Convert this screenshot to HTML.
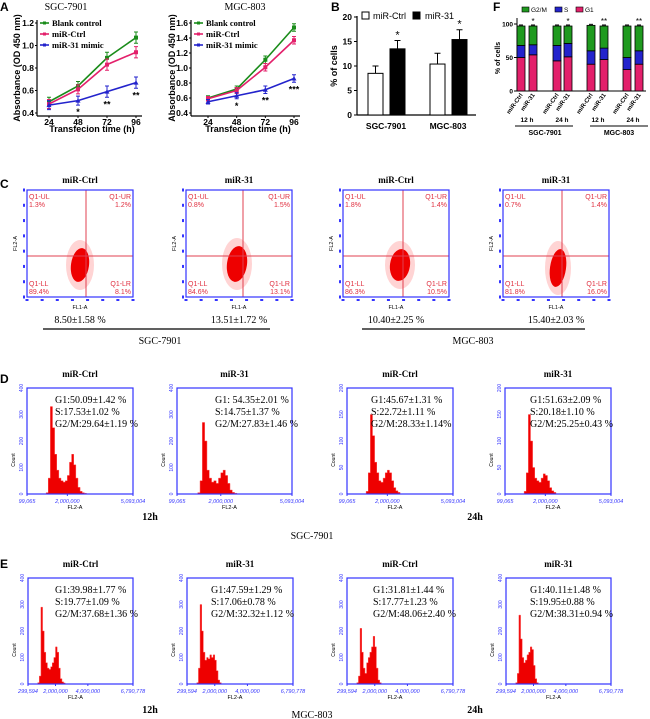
<!DOCTYPE html>
<html><head><meta charset="utf-8">
<style>
html,body{margin:0;padding:0;background:#fff;}
svg{display:block;}
.ser{font-family:"Liberation Serif",serif;}
.sans{font-family:"Liberation Sans",sans-serif;}
</style></head>
<body>
<svg id="fig" width="650" height="719" viewBox="0 0 650 719" xmlns="http://www.w3.org/2000/svg">
<rect width="650" height="719" fill="#fff"/>
<g class="sans" font-weight="bold" font-size="12" fill="#000">
<text x="0" y="11">A</text>
<text x="331" y="11">B</text>
<text x="493" y="11">F</text>
<text x="0" y="188">C</text>
<text x="0" y="383">D</text>
<text x="0" y="568">E</text>
</g>
<g class="ser" font-size="10" text-anchor="middle" fill="#000">
<text x="66" y="10">SGC-7901</text>
<text x="245" y="10">MGC-803</text>
</g>
<g class="sans" font-weight="bold" font-size="9" fill="#000" text-anchor="middle">
<text x="92" y="132">Transfecion time (h)</text>
<text x="248" y="132">Transfecion time (h)</text>
<text transform="translate(20,68) rotate(-90)">Absorbance (OD 450 nm)</text>
<text transform="translate(175,68) rotate(-90)">Absorbance (OD 450 nm)</text>
<text transform="translate(337,66) rotate(-90)">% of cells</text>
<text transform="translate(500,58) rotate(-90)" font-size="7">% of cells</text>
</g>
</svg>
<script>
// ---------- DATA ----------
const aTimes=[24,48,72,96];
const sgcBlank=[0.50,0.64,0.89,1.07];
const sgcCtrl=[0.48,0.61,0.83,0.94];
const sgcMimic=[0.47,0.51,0.59,0.67];
const sgcErr=[0.04,0.04,0.05,0.05];
const sgcStars=["","*","**","**"];
const mgcBlank=[0.60,0.72,1.11,1.54];
const mgcCtrl=[0.59,0.70,1.01,1.37];
const mgcMimic=[0.55,0.63,0.71,0.86];
const mgcErr=[0.03,0.04,0.05,0.05];
const mgcStars=["","*","**","***"];
const bGroups=["SGC-7901","MGC-803"];
const bCtrl=[8.5,10.4];
const bCtrlErr=[1.5,2.2];
const bMir=[13.5,15.4];
const bMirErr=[1.7,2.0];
const bTicks=[0,5,10,15,20];
const fLabels=["miR-Ctrl","miR-31","miR-Ctrl","miR-31","miR-Ctrl","miR-31","miR-Ctrl","miR-31"];
const fG1=[50,54,45,51,40,47,32,40];
const fS=[18,15,23,20,20,17,18,20];
const fG2M=[29,28,29,26,38,33,47,37];
const fStars=["","*","","*","","**","","**"];
const fTicks=[0,50,100];
const cTitles=["miR-Ctrl","miR-31","miR-Ctrl","miR-31"];
const cUL=["1.3%","0.8%","1.8%","0.7%"];
const cUR=["1.2%","1.5%","1.4%","1.4%"];
const cLL=["89.4%","84.6%","86.3%","81.8%"];
const cLR=["8.1%","13.1%","10.5%","16.0%"];
const cApop=["8.50±1.58 %","13.51±1.72 %","10.40±2.25 %","15.40±2.03 %"];
const dText=[["G1:50.09±1.42 %","S:17.53±1.02 %","G2/M:29.64±1.19 %"],["G1: 54.35±2.01 %","S:14.75±1.37 %","G2/M:27.83±1.46 %"],["G1:45.67±1.31 %","S:22.72±1.11 %","G2/M:28.33±1.14%"],["G1:51.63±2.09 %","S:20.18±1.10 %","G2/M:25.25±0.43 %"]];
const eText=[["G1:39.98±1.77 %","S:19.77±1.09 %","G2/M:37.68±1.36 %"],["G1:47.59±1.29 %","S:17.06±0.78 %","G2/M:32.32±1.12 %"],["G1:31.81±1.44 %","S:17.77±1.23 %","G2/M:48.06±2.40 %"],["G1:40.11±1.48 %","S:19.95±0.88 %","G2/M:38.31±0.94 %"]];
const dCounts1=[5,60,330,250,150,90,60,50,45,50,70,120,150,110,60,25,10,5,3];
const dCounts2=[5,50,270,200,90,60,45,50,40,60,80,90,70,40,15,6,3];
const dCounts3=[5,40,150,110,60,40,25,22,30,40,45,40,25,12,6,3];
const dCounts4=[5,40,150,100,50,30,25,22,30,38,35,25,12,6,3];
const eCounts1=[5,30,290,200,120,80,60,55,65,80,100,140,120,60,20,8,4];
const eCounts2=[5,60,300,200,120,90,100,95,110,100,110,90,50,15,5];
const eCounts3=[5,30,210,120,60,40,80,100,120,140,180,140,60,15,5];
const eCounts4=[5,40,260,170,100,80,90,110,120,140,130,70,20,5];

// ---------- HELPERS ----------
const NS="http://www.w3.org/2000/svg";
const svg=document.getElementById('fig');
function el(tag,attrs,txt){const e=document.createElementNS(NS,tag);for(const k in attrs)e.setAttribute(k,attrs[k]);if(txt!==undefined)e.textContent=txt;svg.appendChild(e);return e;}
const SANS='"Liberation Sans",sans-serif', SERIF='"Liberation Serif",serif';
const GREEN='#1a8c1a', PINK='#e3206b', BLUE='#2323cc';

// ---------- PANEL A ----------
function lineChart(p){
  const ys=v=>p.y0-(v-p.vmin)/(p.vmax-p.vmin)*(p.y0-p.y1);
  const xs=t=>p.x0+(t-24)/72*(p.x1-p.x0);
  let e=el('line',{x1:p.ax,y1:p.y1-3,x2:p.ax,y2:p.y0+3,stroke:'#000','stroke-width':1.2});
  
  
  e=el('line',{x1:p.ax,y1:p.y0+3,x2:p.x1+6,y2:p.y0+3,stroke:'#000','stroke-width':1.2});
  
  
  for(let v=p.vmin;v<=p.vmax+1e-6;v+=0.2){
    e=el('text',{x:p.ax-3,y:ys(v)+3,'text-anchor':'end','font-family':SANS,'font-weight':'bold','font-size':8.5},v.toFixed(1));
    
    
    el('line',{x1:p.ax-2,y1:ys(v),x2:p.ax,y2:ys(v),stroke:'#000'});
  }
  aTimes.forEach(t=>{
    e=el('text',{x:xs(t),y:p.y0+12,'text-anchor':'middle','font-family':SANS,'font-weight':'bold','font-size':8.5},t);
    
    
    el('line',{x1:xs(t),y1:p.y0+3,x2:xs(t),y2:p.y0+5,stroke:'#000'});
  });
  const series=[[p.blank,GREEN,'blank-control'],[p.ctrl,PINK,'mir-ctrl'],[p.mimic,BLUE,'mir-31-mimic']];
  series.forEach(([d,c,n],si)=>{
    const pts=d.map((v,i)=>xs(aTimes[i])+','+ys(v)).join(' ');
    e=el('polyline',{points:pts,fill:'none',stroke:c,'stroke-width':1.6});
    
    
    d.forEach((v,i)=>{
      const x=xs(aTimes[i]),y=ys(v),er=(p.y0-p.y1)*p.err[i]/(p.vmax-p.vmin);
      el('path',{d:`M${x},${y-er}V${y+er}M${x-2},${y-er}h4M${x-2},${y+er}h4`,stroke:c,'stroke-width':1});
      e=si==2?el('path',{d:`M${x},${y-2.5}l2.5,4.5h-5z`,fill:c}):el('rect',{x:x-2,y:y-2,width:4,height:4,fill:c});
      
      
    });
    el('line',{x1:p.ax+3,y1:p.y1+ si*11,x2:p.ax+12,y2:p.y1+si*11,stroke:c,'stroke-width':1.6});
    el('rect',{x:p.ax+6,y:p.y1+si*11-1.5,width:3,height:3,fill:c});
    e=el('text',{x:p.ax+15,y:p.y1+si*11+3,'font-family':SERIF,'font-weight':'bold','font-size':8.5},['Blank control','miR-Ctrl','miR-31 mimic'][si]);
    
    
  });
  p.stars.forEach((s,i)=>{
    if(!s)return;
    const er=(p.y0-p.y1)*p.err[i]/(p.vmax-p.vmin);
    e=el('text',{x:xs(aTimes[i]),y:ys(p.mimic[i])+er+10,'text-anchor':'middle','font-family':SANS,'font-weight':'bold','font-size':9},s);
    
    
  });
}
lineChart({ax:37,x0:49,x1:136,y0:113,y1:23,vmin:0.4,vmax:1.2,blank:sgcBlank,ctrl:sgcCtrl,mimic:sgcMimic,err:sgcErr,stars:sgcStars});
lineChart({ax:191,x0:208,x1:294,y0:113,y1:23,vmin:0.4,vmax:1.6,blank:mgcBlank,ctrl:mgcCtrl,mimic:mgcMimic,err:mgcErr,stars:mgcStars});

// ---------- PANEL B ----------
(function(){
  const y=v=>115-v/20*98;
  let e=el('line',{x1:357,y1:16,x2:357,y2:115,stroke:'#000','stroke-width':1.2});
  
  
  e=el('line',{x1:357,y1:115,x2:476,y2:115,stroke:'#000','stroke-width':1.2});
  
  
  bTicks.forEach(t=>{
    el('line',{x1:354,y1:y(t),x2:357,y2:y(t),stroke:'#000'});
    e=el('text',{x:352,y:y(t)+3,'text-anchor':'end','font-family':SANS,'font-weight':'bold','font-size':8.5},t);
    
    
  });
  const gx=[368,430];
  bGroups.forEach((g,i)=>{
    [[bCtrl,bCtrlErr,'#fff',0],[bMir,bMirErr,'#000',22]].forEach(([d,er,f,off])=>{
      const x=gx[i]+off, w=15;
      el('path',{d:`M${x+w/2},${y(d[i])}V${y(d[i]+er[i])}M${x+w/2-3},${y(d[i]+er[i])}h6`,stroke:'#000','stroke-width':1});
      e=el('rect',{x:x,y:y(d[i]),width:w,height:115-y(d[i]),fill:f,stroke:'#000','stroke-width':1});
      
      
      if(off){
        e=el('text',{x:x+w/2,y:y(d[i]+er[i])-2,'text-anchor':'middle','font-family':SANS,'font-size':11},'*');
        
        
      }
    });
    e=el('text',{x:gx[i]+18,y:129,'text-anchor':'middle','font-family':SANS,'font-weight':'bold','font-size':8.5},g);
    
    
  });
  el('rect',{x:362,y:12,width:7,height:7,fill:'#fff',stroke:'#000'});
  e=el('text',{x:373,y:19,'font-family':SANS,'font-size':9},'miR-Ctrl');
  
  
  el('rect',{x:413,y:12,width:7,height:7,fill:'#000',stroke:'#000'});
  e=el('text',{x:425,y:19,'font-family':SANS,'font-size':9},'miR-31');
  
  
})();

// ---------- PANEL F ----------
(function(){
  const y=v=>91-v/100*67;
  const bx=[517,529,553,564,587,600,623,635];
  let e=el('line',{x1:517,y1:18,x2:517,y2:91,stroke:'#000','stroke-width':1});
  
  
  el('line',{x1:517,y1:91,x2:646,y2:91,stroke:'#000','stroke-width':1});
  fTicks.forEach(t=>{
    el('line',{x1:514,y1:y(t),x2:517,y2:y(t),stroke:'#000'});
    e=el('text',{x:513,y:y(t)+2.5,'text-anchor':'end','font-family':SANS,'font-weight':'bold','font-size':6.5},t);
    
    
  });
  fLabels.forEach((lab,i)=>{
    const x=bx[i],w=8;
    const segs=[[0,fG1[i],PINK,'g1'],[fG1[i],fS[i],BLUE,'s'],[fG1[i]+fS[i],fG2M[i],'#1f9a1f','g2m']];
    segs.forEach(([b,h,c,n])=>{
      e=el('rect',{x:x,y:y(b+h),width:w,height:y(b)-y(b+h),fill:c,stroke:'#000','stroke-width':0.8});
      
      
    });
    const top=fG1[i]+fS[i]+fG2M[i];
    el('path',{d:`M${x+2},${y(top)-1}h4`,stroke:'#000','stroke-width':1});
    if(fStars[i]){
      e=el('text',{x:x+4,y:y(top)-2,'text-anchor':'middle','font-family':SANS,'font-size':8},fStars[i]);
      
      
    }
    e=el('text',{transform:`translate(${x+6},95) rotate(-55)`,'text-anchor':'end','font-family':SANS,'font-weight':'bold','font-size':6},lab);
    
    
  });
  [['12 h',527],['24 h',562],['12 h',598],['24 h',633]].forEach(([t,x])=>{
    e=el('text',{x:x,y:122,'text-anchor':'middle','font-family':SANS,'font-weight':'bold','font-size':6.5},t);
    
    
  });
  el('line',{x1:515,y1:126,x2:573,y2:126,stroke:'#000'});
  el('line',{x1:590,y1:126,x2:648,y2:126,stroke:'#000'});
  [['SGC-7901',545],['MGC-803',619]].forEach(([t,x])=>{
    e=el('text',{x:x,y:135,'text-anchor':'middle','font-family':SANS,'font-weight':'bold','font-size':7},t);
    
    
  });
  [['#1f9a1f','G2/M',522],[BLUE,'S',555],[PINK,'G1',576]].forEach(([c,t,x])=>{
    el('rect',{x:x,y:7,width:7,height:5,fill:c,stroke:'#000','stroke-width':0.6});
    e=el('text',{x:x+9,y:12,'font-family':SANS,'font-size':6.5},t);
    
    
  });
})();

// ---------- PANEL C (scatter) ----------
(function(){
  const fx=[27,186,343,503], fw=106, fy=190, fh=107;
  const cross=[59,57,60,59];
  const cloud=[[53,75,9,17],[51,74,10,18],[57,75,10,16],[55,78,8,19]];
  fx.forEach((x,i)=>{
    let e=el('text',{x:x+fw/2,y:183,'text-anchor':'middle','font-family':SERIF,'font-weight':'bold','font-size':9},cTitles[i]);
    
    
    const [cx,cy,rx,ry]=cloud[i];
    e=el('ellipse',{cx:x+cx,cy:fy+cy,rx:rx+5,ry:ry+8,fill:'#ff7070',opacity:0.3});
    
    
    e=el('ellipse',{cx:x+cx,cy:fy+cy,rx:rx,ry:ry,fill:'#ee0000',transform:`rotate(8 ${x+cx} ${fy+cy})`});
    
    
    el('line',{x1:x,y1:fy+66,x2:x+fw,y2:fy+66,stroke:'#e04050','stroke-width':1});
    el('line',{x1:x+cross[i],y1:fy,x2:x+cross[i],y2:fy+fh,stroke:'#e04050','stroke-width':1});
    e=el('rect',{x:x,y:fy,width:fw,height:fh,fill:'none',stroke:'#3333ff','stroke-width':1.2});
    
    
    const q=[[cUL[i],x+2,fy+9,'start','Q1-UL'],[cUR[i],x+fw-2,fy+9,'end','Q1-UR'],[cLL[i],x+2,fy+fh-11,'start','Q1-LL'],[cLR[i],x+fw-2,fy+fh-11,'end','Q1-LR']];
    q.forEach(([v,qx,qy,a,n])=>{
      e=el('text',{x:qx,y:qy,'text-anchor':a,'font-family':SANS,'font-size':7,fill:'#e03040'},n);
      
      
      e=el('text',{x:qx,y:qy+8,'text-anchor':a,'font-family':SANS,'font-size':7,fill:'#e03040'},v);
      
      
    });
    e=el('text',{x:x+fw/2,y:fy+fh+12,'text-anchor':'middle','font-family':SANS,'font-size':5.5,fill:'#000'},'FL1-A');
    
    
    e=el('text',{transform:`translate(${x-10},${fy+fh/2}) rotate(-90)`,'text-anchor':'middle','font-family':SANS,'font-size':5.5},'FL2-A');
    
    
    for(let k=0;k<8;k++){
      el('rect',{x:x-4,y:fy+k*fh/7-1.5,width:2,height:3,fill:'#3333ff'});
      el('rect',{x:x+k*fw/7-1.5,y:fy+fh+2,width:3,height:2,fill:'#3333ff'});
    }
    e=el('text',{x:x+fw/2,y:323,'text-anchor':'middle','font-family':SERIF,'font-size':10},cApop[i]);
    
    
  });
  el('line',{x1:43,y1:329,x2:270,y2:329,stroke:'#000','stroke-width':1.3});
  el('line',{x1:362,y1:329,x2:585,y2:329,stroke:'#000','stroke-width':1.3});
  let e=el('text',{x:160,y:344,'text-anchor':'middle','font-family':SERIF,'font-size':10},'SGC-7901');
  
  
  e=el('text',{x:473,y:344,'text-anchor':'middle','font-family':SERIF,'font-size':10},'MGC-803');
  
  
})();

// ---------- PANELS D & E (histograms) ----------
function histRow(cfg){
  cfg.fx.forEach((x,i)=>{
    const fw=cfg.fw[i], fy=cfg.fy, fh=106;
    const xs=v=>x+(v-cfg.xmin)/(cfg.xmax-cfg.xmin)*fw;
    const ys=c=>fy+fh-c/cfg.ymax[i]*fh;
    let e=el('text',{x:x+fw/2,y:fy-11,'text-anchor':'middle','font-family':SERIF,'font-weight':'bold','font-size':9},cfg.titles[i]);
    
    
    const counts=cfg.counts[i];
    let d=`M${xs(cfg.start)},${fy+fh}`;
    counts.forEach((c,k)=>{const v0=cfg.start+k*cfg.bw;d+=`V${ys(c)}H${xs(v0+cfg.bw)}`;});
    d+=`V${fy+fh}Z`;
    e=el('path',{d:d,fill:'#ee0000',stroke:'#ff5050','stroke-width':0.5});
    
    
    e=el('rect',{x:x,y:fy,width:fw,height:fh,fill:'none',stroke:'#3333ff','stroke-width':1.2});
    
    
    cfg.yt[i].forEach((t,k)=>{
      const yy=fy+fh-k*fh/4;
      e=el('text',{transform:`translate(${x-4},${yy}) rotate(-90)`,'text-anchor':'middle','font-family':SANS,'font-size':5,fill:'#3333ff'},t);
      
      
    });
    cfg.xt.forEach(([v,lab])=>{
      el('line',{x1:xs(v),y1:fy+fh,x2:xs(v),y2:fy+fh+2,stroke:'#3333ff'});
      e=el('text',{x:xs(v),y:fy+fh+9,'text-anchor':'middle','font-family':SANS,'font-style':'italic','font-size':5.5,fill:'#3333ff'},lab);
      
      
    });
    e=el('text',{x:x+fw/2-5,y:fy+fh+15,'text-anchor':'middle','font-family':SANS,'font-size':5.5},'FL2-A');
    
    
    e=el('text',{transform:`translate(${x-12},${fy+fh*0.68}) rotate(-90)`,'text-anchor':'middle','font-family':SANS,'font-size':5},'Count');
    
    
    cfg.text[i].forEach((t,k)=>{
      e=el('text',{x:x+cfg.tx[i],y:fy+15+k*12,'font-family':SERIF,'font-size':10},t);
      
      
    });
  });
  cfg.labels.forEach(([t,x,y])=>{
    const e=el('text',{x:x,y:y,'text-anchor':'middle','font-family':SERIF,'font-weight':t.endsWith('h')?'bold':'normal','font-size':10},t);
    
    
  });
}
histRow({fx:[27,177,347,505],fw:[106,115,106,106],fy:388,xmin:99065,xmax:5093004,start:1000000,bw:100000,
  counts:[dCounts1,dCounts2,dCounts3,dCounts4],ymax:[400,400,200,200],
  yt:[['0','100','200','300','400'],['0','100','200','300','400'],['0','50','100','150','200'],['0','50','100','150','200']],
  xt:[[99065,'99,065'],[2000000,'2,000,000'],[5093004,'5,093,004']],
  titles:cTitles,text:dText,tx:[28,38,24,25],
  labels:[['12h',150,520],['24h',475,520],['SGC-7901',312,539]]});
histRow({fx:[28,187,347,506],fw:[105,106,106,105],fy:578,xmin:299594,xmax:6790778,start:900000,bw:100000,
  counts:[eCounts1,eCounts2,eCounts3,eCounts4],ymax:[400,400,400,400],
  yt:[['0','100','200','300','400'],['0','100','200','300','400'],['0','100','200','300','400'],['0','100','200','300','400']],
  xt:[[299594,'299,594'],[2000000,'2,000,000'],[4000000,'4,000,000'],[6790778,'6,790,778']],
  titles:cTitles,text:eText,tx:[27,24,26,24],
  labels:[['12h',150,713],['24h',475,713],['MGC-803',312,718]]});
</script>
</body></html>
